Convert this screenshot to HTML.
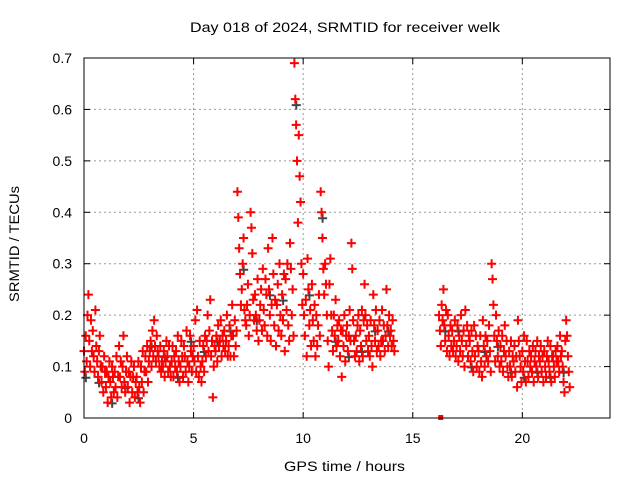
<!DOCTYPE html>
<html><head><meta charset="utf-8"><style>
body{margin:0;background:#fff;}
svg{display:block;font-family:"Liberation Sans",sans-serif;}
</style></head><body>
<svg id="chart" width="640" height="480">
<rect x="0" y="0" width="640" height="480" fill="#fff"/>
<text x="190" y="32" font-size="14" textLength="310" lengthAdjust="spacingAndGlyphs">Day 018 of 2024, SRMTID for receiver welk</text>
<text x="19" y="302" font-size="14" textLength="116" lengthAdjust="spacingAndGlyphs" transform="rotate(-90 19 302)">SRMTID / TECUs</text>
<text x="284" y="471" font-size="14" textLength="121" lengthAdjust="spacingAndGlyphs">GPS time / hours</text>
<g id="grid"></g><g id="ticks"></g><g id="marks"></g>
<rect x="84" y="58" width="526" height="360" fill="none" stroke="#000" stroke-width="1"/>
</svg>
<script>
const xTicks=[0,5,10,15,20];
const yTicks=[0,0.1,0.2,0.3,0.4,0.5,0.6,0.7];
const bucketTimes=[0.0,0.2,0.4,0.6,0.8,1.0,1.2,1.4,1.6,1.8,2.0,2.2,2.4,2.6,2.8,3.0,3.2,3.4,3.6,3.8,4.0,4.2,4.4,4.6,4.8,5.0,5.2,5.4,5.6,5.8,6.0,6.2,6.4,6.6,6.8,7.0,7.2,7.4,7.6,7.8,8.0,8.2,8.4,8.6,8.8,9.0,9.2,9.4,9.6,9.8,10.0,10.2,10.4,10.6,10.8,11.0,11.2,11.4,11.6,11.8,12.0,12.2,12.4,12.6,12.8,13.0,13.2,13.4,13.6,13.8,14.0,
16.2,16.4,16.6,16.8,17.0,17.2,17.4,17.6,17.8,18.0,18.2,18.4,18.6,18.8,19.0,19.2,19.4,19.6,19.8,20.0,20.2,20.4,20.6,20.8,21.0,21.2,21.4,21.6,21.8,22.0];
const bucketValues=[
[.13,.09,.16,.11,.20],[.24,.15,.10,.19,.13],[.17,.12,.09,.21,.14],[.11,.08,.13,.16,.10],[.07,.10,.05,.12,.09],
[.06,.09,.03,.08,.11],[.07,.04,.10,.08,.05],[.09,.06,.12,.04,.08],[.14,.08,.11,.06,.10],[.16,.07,.05,.09,.12],
[.06,.09,.03,.08,.11],[.05,.08,.10,.04,.07],[.08,.05,.11,.06,.03],[.10,.07,.13,.05,.09],[.12,.09,.14,.07,.11],
[.13,.15,.10,.17,.12],[.19,.14,.11,.16,.13],[.12,.10,.14,.09,.11],[.10,.13,.08,.11,.15],[.12,.09,.14,.10,.08],
[.11,.14,.08,.12,.10],[.13,.09,.16,.11,.07],[.10,.15,.12,.08,.14],[.12,.09,.17,.11,.07],[.10,.16,.13,.09,.12],
[.14,.11,.19,.09,.21],[.12,.08,.15,.10,.07],[.11,.14,.09,.16,.12],[.15,.20,.13,.17,.23],[.12,.15,.04,.10,.14],
[.13,.16,.11,.18,.14],[.15,.19,.12,.16,.14],[.17,.13,.15,.20,.12],[.14,.18,.12,.16,.22],[.16,.12,.19,.14,.17],
[.44,.39,.33,.28,.22],[.25,.30,.35,.21,.19],[.18,.22,.26,.16,.20],[.40,.37,.32,.23,.19],[.24,.20,.17,.27,.15],
[.19,.22,.25,.17,.29],[.21,.18,.27,.24,.16],[.33,.25,.20,.15,.22],[.35,.28,.18,.23,.14],[.22,.26,.17,.30,.20],
[.16,.24,.19,.28,.13],[.27,.21,.30,.18,.15],[.34,.29,.20,.25,.16],[.69,.62,.57,.50,.38],[.55,.47,.42,.30,.22],
[.28,.20,.16,.23,.12],[.31,.25,.18,.21,.14],[.26,.19,.15,.22,.12],[.20,.14,.18,.24,.16],[.44,.40,.35,.29,.24],
[.30,.26,.20,.15,.10],[.26,.31,.20,.17,.13],[.20,.16,.23,.14,.18],[.15,.19,.12,.17,.08],[.17,.14,.20,.11,.16],
[.18,.13,.16,.21,.15],[.34,.29,.19,.15,.12],[.16,.13,.18,.20,.11],[.17,.14,.21,.12,.19],[.26,.20,.15,.18,.13],
[.16,.12,.19,.14,.10],[.24,.18,.15,.21,.13],[.17,.14,.19,.12,.15],[.21,.15,.18,.13,.16],[.25,.18,.14,.20,.16],
[.17,.14,.19,.15,.13],
[.20,.17,.14,.22,.19],[.25,.18,.15,.21,.13],[.20,.16,.12,.18,.14],[.17,.13,.15,.19,.12],[.14,.18,.11,.16,.13],
[.20,.15,.12,.17,.10],[.21,.14,.18,.12,.16],[.15,.11,.17,.13,.09],[.18,.12,.16,.10,.14],[.13,.09,.16,.11,.08],
[.19,.14,.10,.16,.12],[.15,.11,.18,.13,.09],[.30,.27,.22,.16,.11],[.20,.15,.12,.17,.10],[.14,.11,.16,.09,.13],
[.18,.12,.15,.10,.08],[.13,.10,.15,.08,.12],[.11,.14,.09,.12,.06],[.19,.15,.12,.10,.07],[.13,.09,.16,.11,.07],
[.15,.11,.08,.13,.10],[.12,.09,.14,.07,.11],[.13,.10,.15,.08,.12],[.11,.14,.09,.12,.07],[.13,.10,.08,.12,.15],
[.11,.09,.14,.07,.12],[.12,.10,.08,.13,.11],[.14,.11,.09,.16,.12],[.13,.10,.07,.05,.15],[.19,.16,.12,.09,.06]];
const outlierTimes=[16.3];
const outlierValues=[0.0];
const NS='http://www.w3.org/2000/svg';
const X=t=>84+t*(526/24);
const Y=v=>418-v*(360/0.7);
const grid=document.getElementById('grid'),ticks=document.getElementById('ticks'),marks=document.getElementById('marks');
function mk(tag,attrs,parent){const e=document.createElementNS(NS,tag);for(const k in attrs)e.setAttribute(k,attrs[k]);parent.appendChild(e);return e;}
xTicks.forEach(t=>{
 if(t>0){const g=mk('line',{x1:X(t),x2:X(t),y1:58,y2:418,stroke:'#999','stroke-dasharray':'2,3'},grid);
 
 }
 const a=mk('line',{x1:X(t),x2:X(t),y1:418,y2:412,stroke:'#000'},ticks);
 
 
 const b=mk('line',{x1:X(t),x2:X(t),y1:58,y2:64,stroke:'#000'},ticks);
 
 
 const l=mk('text',{x:X(t),y:443,'text-anchor':'middle','font-size':14},ticks);l.textContent=t;
 
 
});
yTicks.forEach(v=>{
 if(v>0&&v<0.7){const g=mk('line',{x1:84,x2:610,y1:Y(v),y2:Y(v),stroke:'#999','stroke-dasharray':'2,3'},grid);
 
 }
 const a=mk('line',{x1:84,x2:90,y1:Y(v),y2:Y(v),stroke:'#000'},ticks);
 
 
 const b=mk('line',{x1:604,x2:610,y1:Y(v),y2:Y(v),stroke:'#000'},ticks);
 
 
 const l=mk('text',{x:72,y:Y(v)+5,'text-anchor':'end','font-size':14},ticks);l.textContent=v===0?'0':v.toFixed(1);
 
 
});
function plus(cx,cy,col,name){
 const p=mk('path',{d:`M${cx-4.5},${cy}H${cx+4.5}M${cx},${cy-4.5}V${cy+4.5}`,stroke:col,'stroke-width':2,fill:'none'},marks);
 
 
}
bucketTimes.forEach((t,i)=>{
 bucketValues[i].forEach((v,j)=>{
  if(j===1&&i%3===0)plus(X(t+j*0.04)+1,Y(v)+6,'#444','black-point');
 });
});
bucketTimes.forEach((t,i)=>{
 bucketValues[i].forEach((v,j)=>{
  const tt=t+j*0.04;
  plus(X(tt),Y(v),'#f00','srmtid-point');
 });
});
outlierTimes.forEach((t,i)=>{
 const r=mk('rect',{x:X(t)-3,y:Y(outlierValues[i])-3,width:5,height:5,fill:'#f00'},marks);
 
 
});
</script>
</body></html>
